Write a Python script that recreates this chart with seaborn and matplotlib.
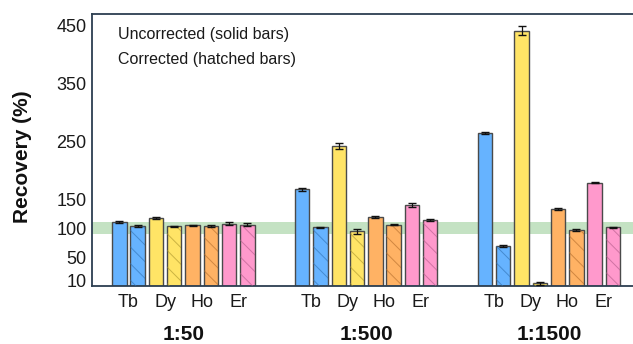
import numpy as np
import pandas as pd
import matplotlib
matplotlib.use("Agg")
import matplotlib.pyplot as plt
import matplotlib.transforms as mtransforms
import seaborn as sns

# ---- data ----
groups = ["1:50", "1:500", "1:1500"]
elements = ["Tb", "Dy", "Ho", "Er"]
uncorrected = {
    "1:50":   [110, 117, 105, 107],
    "1:500":  [167, 241, 119, 140],
    "1:1500": [264, 440, 133, 178],
}
uncorrected_err = {
    "1:50":   [1.5, 1.5, 1.0, 2.5],
    "1:500":  [2.5, 5.0, 1.0, 3.0],
    "1:1500": [1.5, 8.0, 2.0, 1.0],
}
corrected = {
    "1:50":   [104, 103, 103.5, 106],
    "1:500":  [101, 94, 106, 114],
    "1:1500": [69.5, 4.6, 96, 101],
}
corrected_err = {
    "1:50":   [1.5, 1.0, 1.0, 2.5],
    "1:500":  [1.5, 4.0, 1.0, 2.0],
    "1:1500": [1.5, 3.0, 2.0, 1.0],
}
yticks = [10, 50, 100, 150, 250, 350, 450]
band = (90, 110)
colors = {"Tb": "#66b3ff", "Dy": "#ffe466", "Ho": "#ffb264", "Er": "#ff99cc"}
hatch_colors = {"Tb": "#2f6fb0", "Dy": "#a8922a", "Ho": "#b06a2a", "Er": "#b05a88"}

# ---- table ----
rows = []
for g, grp in enumerate(groups):
    for e, el in enumerate(elements):
        rows.append(dict(x=g * 10 + 2 * e, value=uncorrected[grp][e],
                         err=uncorrected_err[grp][e], element=el, corrected=False))
        rows.append(dict(x=g * 10 + 2 * e + 1, value=corrected[grp][e],
                         err=corrected_err[grp][e], element=el, corrected=True))
df = pd.DataFrame(rows)

sns.set_style("white")
plt.rcParams["font.family"] = ["Liberation Sans", "DejaVu Sans"]
plt.rcParams["hatch.linewidth"] = 0.7

fig = plt.figure(figsize=(6.33, 3.44), dpi=100)
ax = fig.add_axes([92 / 633, 58 / 344, 541 / 633, 272 / 344])

ax.axhspan(band[0], band[1], color="#c4e2c3", zorder=0, lw=0)

sns.barplot(data=df, x="x", y="value", hue="element", palette=colors,
            native_scale=True, dodge=False, width=0.79, errorbar=None,
            saturation=1, edgecolor="#4a4a4a", linewidth=1.0, legend=False,
            ax=ax, zorder=2)

# hatch overlay for corrected bars
dc = df[df.corrected]
for el in elements:
    sub = dc[dc.element == el]
    ax.bar(sub.x, sub.value, width=0.79, facecolor="none",
           edgecolor=matplotlib.colors.to_rgba(hatch_colors[el], 0.6),
           linewidth=0, hatch="\\\\", zorder=3)

ax.errorbar(df.x, df.value, yerr=df.err, fmt="none", ecolor="#111111",
            elinewidth=0.9, capsize=3.2, capthick=1.0, zorder=4)

ax.set_xlim(-1.5, 28.1)
ax.set_ylim(0, 469)
ax.set_yticks(yticks)
ax.set_yticklabels([str(t) for t in yticks], fontsize=13, color="#1a1a1a")

centers = [g * 10 + 2 * e + 0.5 for g in range(len(groups)) for e in range(len(elements))]
ax.set_xticks(centers)
ax.set_xticklabels(elements * len(groups), fontsize=13, color="#1a1a1a")
ax.tick_params(axis="both", length=0)
ax.tick_params(axis="x", pad=6)
ax.tick_params(axis="y", pad=4)
ax.set_xlabel("")
ax.set_ylabel("Recovery (%)", fontsize=15, fontweight="bold", color="#111111")
ax.yaxis.set_label_coords(-0.11, 0.474)

trans = mtransforms.blended_transform_factory(ax.transData, fig.transFigure)
for g, grp in enumerate(groups):
    ax.text(g * 10 + 3.5, 9 / 344, grp, transform=trans, ha="center", va="center",
            fontsize=15, fontweight="bold", color="#111111")

ax.text(0.048, 0.926, "Uncorrected (solid bars)", transform=ax.transAxes,
        fontsize=11.5, va="center", ha="left", color="#1a1a1a")
ax.text(0.048, 0.831, "Corrected (hatched bars)", transform=ax.transAxes,
        fontsize=11.5, va="center", ha="left", color="#1a1a1a")

for s in ["left", "top", "bottom"]:
    ax.spines[s].set_color("#2c3e50")
    ax.spines[s].set_linewidth(1.3)
ax.spines["right"].set_visible(False)

fig.savefig("out.png", dpi=100)
